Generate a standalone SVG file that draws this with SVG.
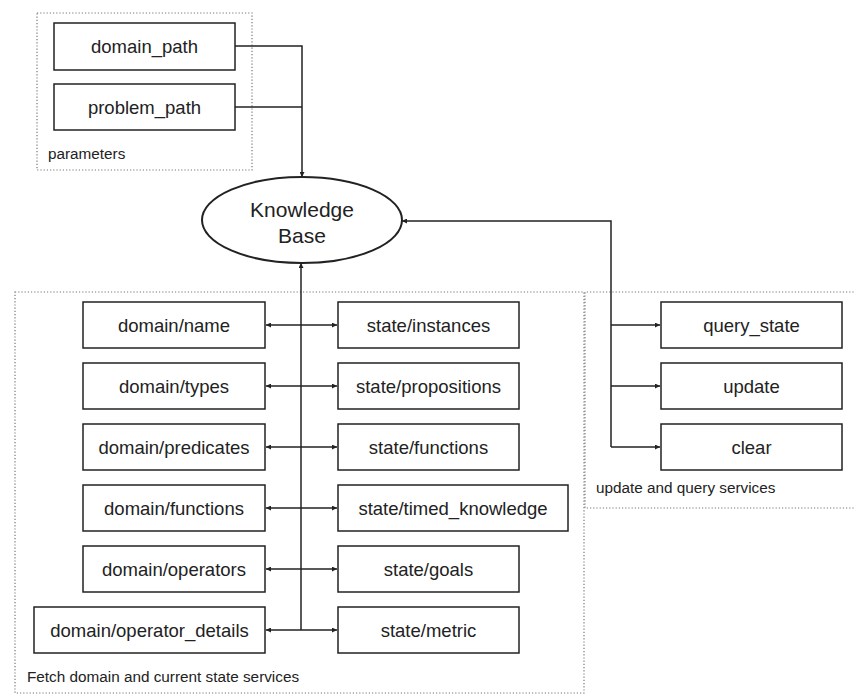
<svg xmlns="http://www.w3.org/2000/svg" width="855" height="695" viewBox="0 0 855 695">
  <style>
    .grp { fill: none; stroke: #777; stroke-width: 1.2; stroke-dasharray: 1.2 2; }
    .box { fill: #fff; stroke: #222; stroke-width: 1.5; }
    .wire { fill: none; stroke: #222; stroke-width: 1.5; }
    .txt { font-family: "Liberation Sans", Arial, sans-serif; font-size: 18.5px; fill: #222; text-anchor: middle; }
    .kb { font-family: "Liberation Sans", Arial, sans-serif; font-size: 21px; fill: #222; text-anchor: middle; }
    .lbl { font-family: "Liberation Sans", Arial, sans-serif; font-size: 15.3px; fill: #222; }
  </style>
  <defs>
    <marker id="arr" viewBox="0 0 8 8" refX="8" refY="4" markerWidth="5" markerHeight="5" markerUnits="userSpaceOnUse" orient="auto-start-reverse">
      <path d="M0,0 L8,4 L0,8 z" fill="#222"/>
    </marker>
  </defs>
  <rect width="855" height="695" fill="#fff"/>

  <!-- group frames -->
  <g id="group-parameters">
    <rect class="grp" x="37" y="13" width="215" height="157"/>
    <text class="lbl" x="48" y="159">parameters</text>
  </g>
  <g id="group-fetch">
    <rect class="grp" x="15" y="292" width="569" height="401"/>
    <text class="lbl" x="27" y="682">Fetch domain and current state services</text>
  </g>
  <g id="group-update">
    <path class="grp" d="M860,292 H585 V508 H860"/>
    <text class="lbl" x="596" y="493">update and query services</text>
  </g>

  <!-- connectors -->
  <g id="connectors">
    <path class="wire" d="M235,46 H302 V177" marker-end="url(#arr)"/>
    <path class="wire" d="M235,107 H302"/>
    <path class="wire" d="M611,447 V221 H402" marker-end="url(#arr)"/>
    <path class="wire" d="M611,325 H660" marker-end="url(#arr)"/>
    <path class="wire" d="M611,386 H660" marker-end="url(#arr)"/>
    <path class="wire" d="M611,447 H660" marker-end="url(#arr)"/>
    <path class="wire" d="M301,630 V263" marker-end="url(#arr)"/>
    <path class="wire" d="M266,325 H337" marker-start="url(#arr)" marker-end="url(#arr)"/>
    <path class="wire" d="M266,386 H337" marker-start="url(#arr)" marker-end="url(#arr)"/>
    <path class="wire" d="M266,447 H337" marker-start="url(#arr)" marker-end="url(#arr)"/>
    <path class="wire" d="M266,508 H337" marker-start="url(#arr)" marker-end="url(#arr)"/>
    <path class="wire" d="M266,569 H337" marker-start="url(#arr)" marker-end="url(#arr)"/>
    <path class="wire" d="M266,630 H337" marker-start="url(#arr)" marker-end="url(#arr)"/>
  </g>

  <!-- parameters -->
  <g id="domain_path"><rect class="box" x="54" y="23" width="181" height="47"/><text class="txt" x="144.5" y="53">domain_path</text></g>
  <g id="problem_path"><rect class="box" x="54" y="84" width="181" height="46"/><text class="txt" x="144.5" y="114">problem_path</text></g>

  <!-- knowledge base -->
  <g id="knowledge_base">
    <ellipse cx="302" cy="220" rx="100" ry="43" fill="#fff" stroke="#222" stroke-width="2"/>
    <text class="kb" x="302" y="217">Knowledge</text>
    <text class="kb" x="302" y="243">Base</text>
  </g>

  <!-- domain services -->
  <g id="domain_name"><rect class="box" x="83" y="302" width="182" height="46"/><text class="txt" x="174" y="332">domain/name</text></g>
  <g id="domain_types"><rect class="box" x="83" y="363" width="182" height="46"/><text class="txt" x="174" y="393">domain/types</text></g>
  <g id="domain_predicates"><rect class="box" x="83" y="424" width="182" height="46"/><text class="txt" x="174" y="454">domain/predicates</text></g>
  <g id="domain_functions"><rect class="box" x="83" y="485" width="182" height="46"/><text class="txt" x="174" y="515">domain/functions</text></g>
  <g id="domain_operators"><rect class="box" x="83" y="546" width="182" height="46"/><text class="txt" x="174" y="576">domain/operators</text></g>
  <g id="domain_operator_details"><rect class="box" x="34" y="607" width="231" height="46"/><text class="txt" x="149.5" y="637">domain/operator_details</text></g>

  <!-- state services -->
  <g id="state_instances"><rect class="box" x="338" y="302" width="181" height="46"/><text class="txt" x="428.5" y="332">state/instances</text></g>
  <g id="state_propositions"><rect class="box" x="338" y="363" width="181" height="46"/><text class="txt" x="428.5" y="393">state/propositions</text></g>
  <g id="state_functions"><rect class="box" x="338" y="424" width="181" height="46"/><text class="txt" x="428.5" y="454">state/functions</text></g>
  <g id="state_timed_knowledge"><rect class="box" x="338" y="485" width="230" height="46"/><text class="txt" x="453" y="515">state/timed_knowledge</text></g>
  <g id="state_goals"><rect class="box" x="338" y="546" width="181" height="46"/><text class="txt" x="428.5" y="576">state/goals</text></g>
  <g id="state_metric"><rect class="box" x="338" y="607" width="181" height="46"/><text class="txt" x="428.5" y="637">state/metric</text></g>

  <!-- update and query services -->
  <g id="query_state"><rect class="box" x="661" y="302" width="181" height="46"/><text class="txt" x="751.5" y="332">query_state</text></g>
  <g id="update"><rect class="box" x="661" y="363" width="181" height="46"/><text class="txt" x="751.5" y="393">update</text></g>
  <g id="clear"><rect class="box" x="661" y="424" width="181" height="46"/><text class="txt" x="751.5" y="454">clear</text></g>
</svg>
